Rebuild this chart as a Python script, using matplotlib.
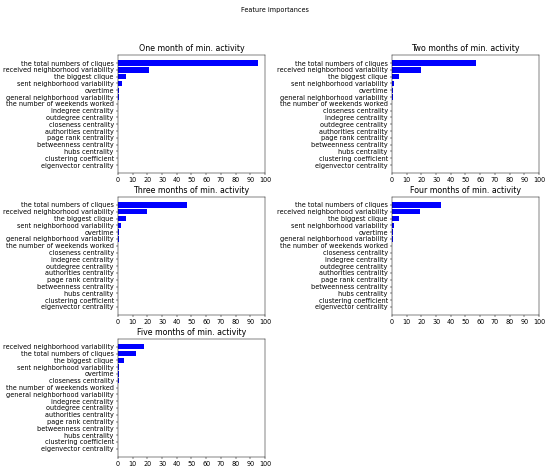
import numpy as np
import matplotlib
matplotlib.use("Agg")
import matplotlib.pyplot as plt

# scaled-down look of a large default matplotlib figure
s = 0.43
fs = 4.7
plt.rcParams.update({
    "font.size": fs,
    "axes.linewidth": 0.8 * s,
    "xtick.major.size": 3.5 * s,
    "ytick.major.size": 3.5 * s,
    "xtick.major.width": 0.8 * s,
    "ytick.major.width": 0.8 * s,
    "xtick.major.pad": 3.5 * s,
    "ytick.major.pad": 3.5 * s,
    "axes.titlepad": 6.0 * s,
})

# feature names, top to bottom, and importances (%) for each period
names_1 = ["the total numbers of cliques", "received neighborhood variability",
           "the biggest clique", "sent neighborhood variability", "overtime",
           "general neighborhood variability", "the number of weekends worked",
           "indegree centrality", "outdegree centrality", "closeness centrality",
           "authorities centrality", "page rank centrality", "betweenness centrality",
           "hubs centrality", "clustering coefficient", "eigenvector centrality"]
vals_1 = [95.5, 21.0, 5.5, 2.5, 0.8, 0.4, 0.3, 0.2, 0.2, 0.15, 0.1, 0.1, 0.08, 0.05, 0.03, 0.02]

names_2 = ["the total numbers of cliques", "received neighborhood variability",
           "the biggest clique", "sent neighborhood variability", "overtime",
           "general neighborhood variability", "the number of weekends worked",
           "closeness centrality", "indegree centrality", "outdegree centrality",
           "authorities centrality", "page rank centrality", "betweenness centrality",
           "hubs centrality", "clustering coefficient", "eigenvector centrality"]
vals_2 = [57.0, 20.0, 5.0, 1.6, 0.7, 0.4, 0.3, 0.2, 0.2, 0.15, 0.1, 0.1, 0.08, 0.05, 0.03, 0.02]

names_3 = names_2
vals_3 = [47.0, 19.7, 5.2, 2.2, 0.8, 0.4, 0.3, 0.2, 0.2, 0.15, 0.1, 0.1, 0.08, 0.05, 0.03, 0.02]

names_4 = names_2
vals_4 = [33.0, 19.0, 4.5, 1.6, 0.5, 0.4, 0.3, 0.2, 0.2, 0.15, 0.1, 0.1, 0.08, 0.05, 0.03, 0.02]

names_5 = ["received neighborhood variability", "the total numbers of cliques",
           "the biggest clique", "sent neighborhood variability", "overtime",
           "closeness centrality", "the number of weekends worked",
           "general neighborhood variability", "indegree centrality",
           "outdegree centrality", "authorities centrality", "page rank centrality",
           "betweenness centrality", "hubs centrality", "clustering coefficient",
           "eigenvector centrality"]
vals_5 = [18.0, 12.5, 4.3, 1.0, 0.5, 0.4, 0.3, 0.2, 0.2, 0.15, 0.1, 0.1, 0.08, 0.05, 0.03, 0.02]

titles = ["One month of min. activity", "Two months of min. activity",
          "Three months of min. activity", "Four months of min. activity",
          "Five months of min. activity"]
panels = [(names_1, vals_1), (names_2, vals_2), (names_3, vals_3),
          (names_4, vals_4), (names_5, vals_5)]
xticks = list(range(0, 101, 10))

fig, axes = plt.subplots(3, 2, figsize=(5.5, 4.7), dpi=100)
fig.subplots_adjust(left=0.2145, right=0.98, top=0.883, bottom=0.028,
                    wspace=0.864, hspace=0.20)
fig.suptitle("Feature importances", y=0.985, fontsize=fs)

for ax, title, (names, vals) in zip(axes.flat, titles, panels):
    y = np.arange(len(names))
    ax.barh(y, vals, color="blue")
    ax.set_yticks(y)
    ax.set_yticklabels(names)
    ax.invert_yaxis()
    ax.set_xlim(0, 100)
    ax.set_xticks(xticks)
    ax.set_title(title)

axes[2, 1].remove()

fig.savefig("out.png", dpi=100)
